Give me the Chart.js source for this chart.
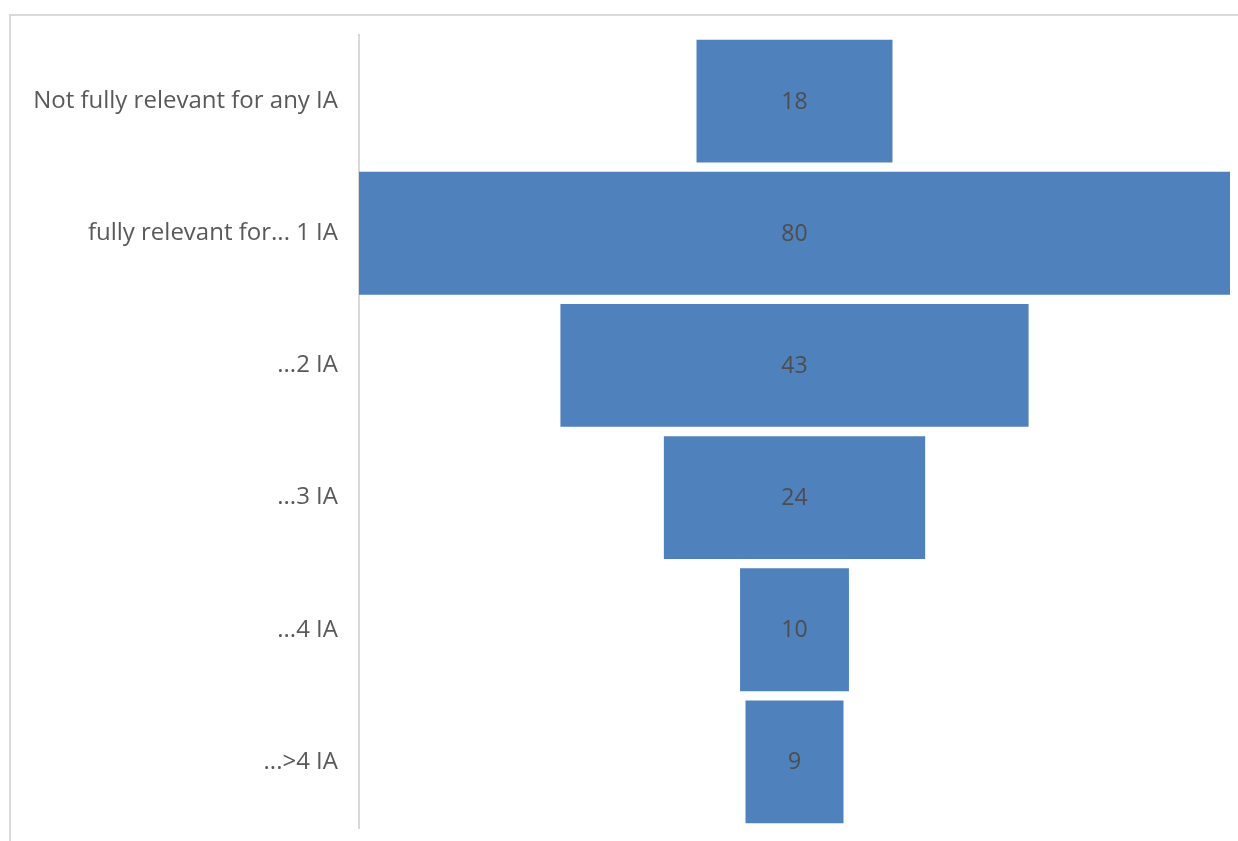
<!DOCTYPE html>
<html>
<head>
<meta charset="utf-8">
<script src="https://cdn.jsdelivr.net/npm/chart.js@4/dist/chart.umd.min.js"></script>
<style>
  body { margin: 0; background: #fff; }
  #frame {
    position: absolute; left: 9px; top: 14px; width: 1229px; height: 827px;
    border-top: 2px solid #d9d9d9; border-left: 2px solid #d9d9d9;
    box-sizing: border-box;
  }
  #out { position: absolute; left: 0; top: 0; }
</style>
</head>
<body>
<div id="frame"></div>
<canvas id="out" width="1238" height="841"></canvas>
<script>
const stages = ["Not fully relevant for any IA", "fully relevant for... 1 IA", "...2 IA", "...3 IA", "...4 IA", "...>4 IA"];
const counts = [18, 80, 43, 24, 10, 9];

// funnel: each bar is centred on zero
const funnelBars = counts.map(v => [-v / 2, v / 2]);

const valueLabels = {
  id: "valueLabels",
  afterDatasetsDraw(chart) {
    const ctx = chart.ctx;
    const meta = chart.getDatasetMeta(0);
    ctx.save();
    ctx.font = "23px 'Open Sans', sans-serif";
    ctx.fillStyle = "#4d4d4d";
    ctx.textAlign = "center";
    ctx.textBaseline = "middle";
    meta.data.forEach((bar, i) => {
      const x = chart.scales.x.getPixelForValue(0);
      ctx.fillText(String(counts[i]), x, bar.y + 1);
    });
    ctx.restore();
  }
};

const canvasCtx = document.getElementById("out").getContext("2d");
new Chart(canvasCtx, {
  type: "bar",
  data: {
    labels: stages,
    datasets: [{
      data: funnelBars,
      backgroundColor: "#4f81bd",
      borderWidth: 0,
      barPercentage: 0.93,
      categoryPercentage: 1
    }]
  },
  options: {
    indexAxis: "y",
    responsive: false,
    animation: false,
    layout: { padding: { top: 35, bottom: 13, right: 8, left: 0 } },
    plugins: { legend: { display: false }, tooltip: { enabled: false } },
    scales: {
      x: {
        min: -40, max: 40,
        display: false
      },
      y: {
        afterFit(scale) {
          scale.width = 359;
          scale.paddingTop = 0;
          scale.paddingBottom = 0;
        },
        grid: { display: false, drawTicks: false },
        border: { display: true, color: "#d9d9d9", width: 2 },
        ticks: {
          padding: 21,
          color: "#595959",
          font: { family: "'Open Sans', sans-serif", size: 24 }
        }
      }
    }
  },
  plugins: [valueLabels]
});
</script>
</body>
</html>
